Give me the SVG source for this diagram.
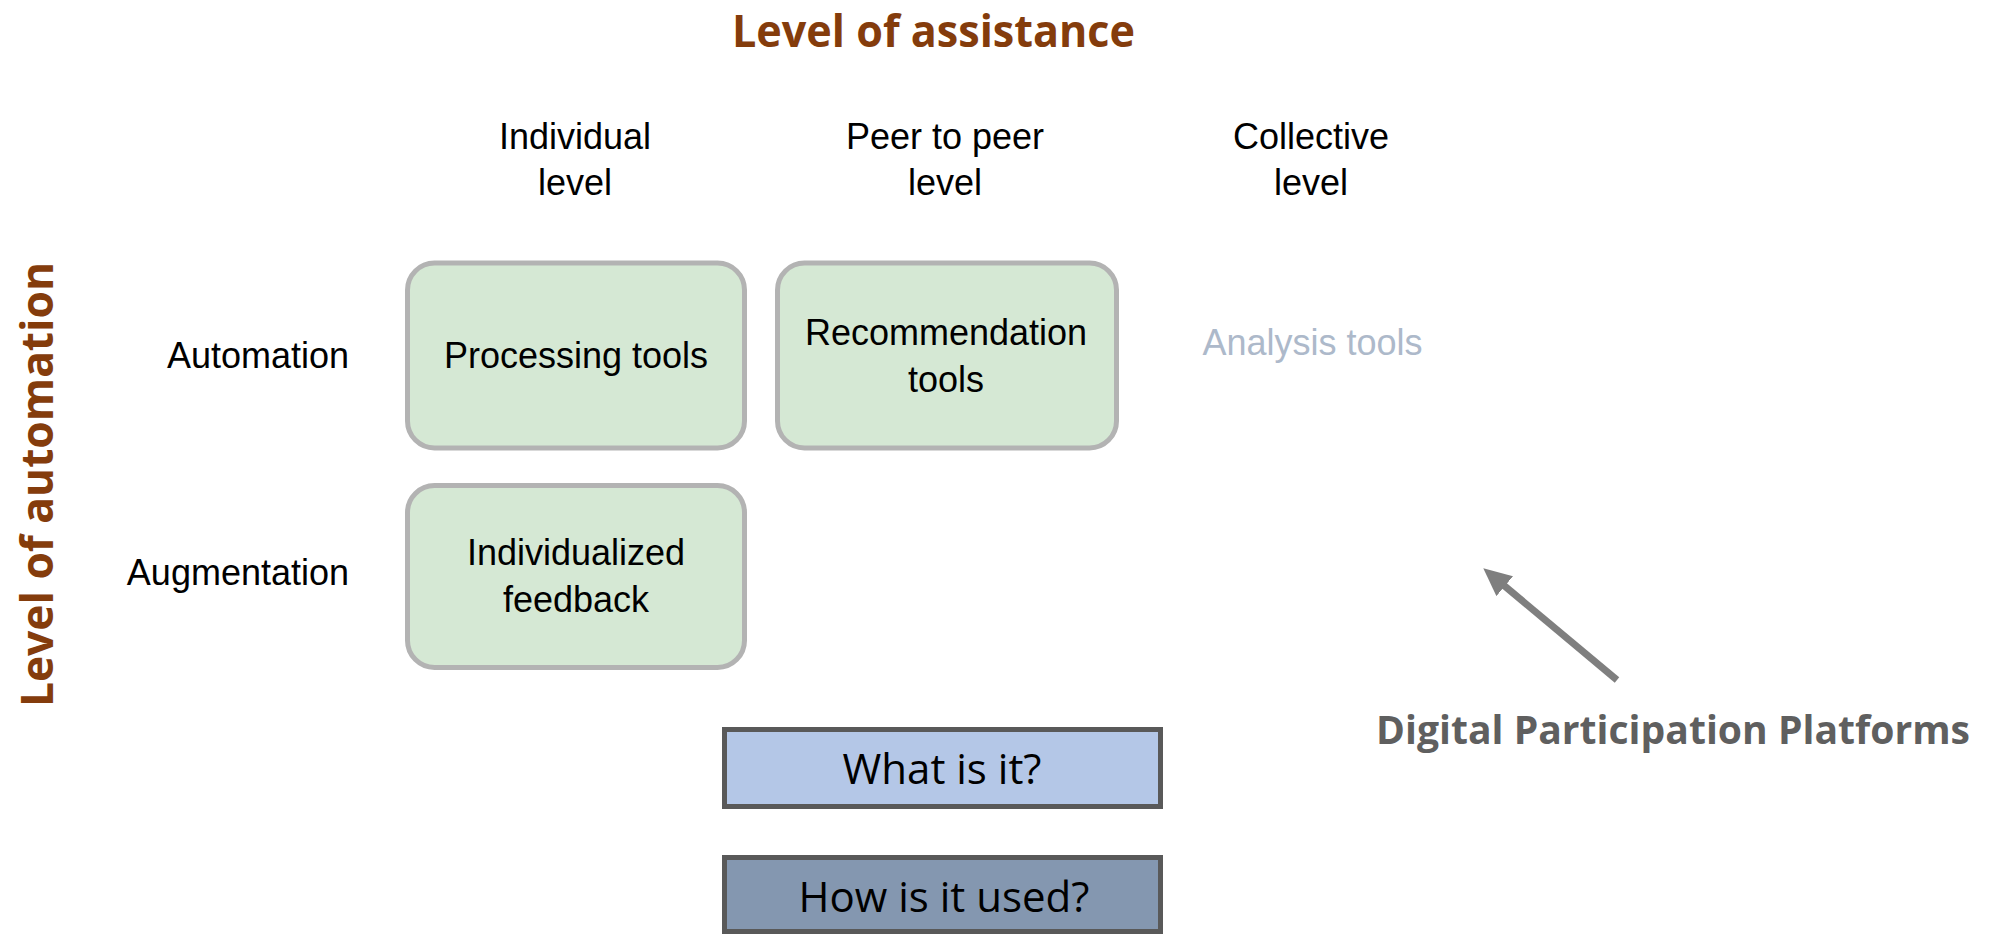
<svg xmlns="http://www.w3.org/2000/svg" width="1995" height="934" viewBox="0 0 1995 934">
  <style>
    .axis { font-family: "Open Sans", "DejaVu Sans", sans-serif; font-weight: bold; fill: #843C0C; font-size: 45px; }
    .lbl { font-family: "Liberation Sans", Arial, sans-serif; font-size: 36px; fill: #000000; text-anchor: middle; }
    .rlbl { font-family: "Liberation Sans", Arial, sans-serif; font-size: 36px; fill: #000000; text-anchor: end; }
    .tool { fill: #d5e8d4; stroke: #b3b3b3; stroke-width: 5; }
    .q { stroke: #595959; stroke-width: 5; }
    .qtxt { font-family: "Open Sans", "DejaVu Sans", sans-serif; font-size: 42px; fill: #000000; text-anchor: middle; }
    .dpp { font-family: "Open Sans", "DejaVu Sans", sans-serif; font-weight: bold; font-size: 40px; fill: #5f5f5f; }
  </style>
  <defs>
    <marker id="ah" markerUnits="userSpaceOnUse" markerWidth="28" markerHeight="26" refX="1" refY="13" orient="auto">
      <path d="M0,0 L28,13 L0,26 Z" fill="#7f7f7f"/>
    </marker>
  </defs>
  <rect width="1995" height="934" fill="#ffffff"/>

  <g id="axis-titles">
    <text class="axis" x="933.5" y="47" text-anchor="middle" textLength="403" lengthAdjust="spacingAndGlyphs">Level of assistance</text>
    <text class="axis" transform="translate(53,484.5) rotate(-90)" x="0" y="0" text-anchor="middle" textLength="445" lengthAdjust="spacingAndGlyphs">Level of automation</text>
  </g>

  <g id="col-headers">
    <text class="lbl" x="575" y="149">Individual</text>
    <text class="lbl" x="575" y="195">level</text>
    <text class="lbl" x="945" y="149">Peer to peer</text>
    <text class="lbl" x="945" y="195">level</text>
    <text class="lbl" x="1311" y="149">Collective</text>
    <text class="lbl" x="1311" y="195">level</text>
  </g>

  <g id="row-headers">
    <text class="rlbl" x="349" y="368">Automation</text>
    <text class="rlbl" x="349" y="585">Augmentation</text>
  </g>

  <g id="processing-tools">
    <rect class="tool" x="407.5" y="263" width="337" height="185" rx="27"/>
    <text class="lbl" x="576" y="368">Processing tools</text>
  </g>

  <g id="recommendation-tools">
    <rect class="tool" x="777.5" y="263" width="339" height="185" rx="27"/>
    <text class="lbl" x="946" y="345">Recommendation</text>
    <text class="lbl" x="946" y="392">tools</text>
  </g>

  <g id="analysis-tools">
    <text class="lbl" x="1312.5" y="355" fill="#adb9ca" style="fill:#adb9ca">Analysis tools</text>
  </g>

  <g id="individualized-feedback">
    <rect class="tool" x="407.5" y="485.5" width="337" height="182" rx="27"/>
    <text class="lbl" x="576" y="565">Individualized</text>
    <text class="lbl" x="576" y="612">feedback</text>
  </g>

  <g id="what-is-it">
    <rect class="q" x="724.5" y="729.5" width="436" height="77" fill="#b4c7e7"/>
    <text class="qtxt" x="942" y="784">What is it?</text>
  </g>

  <g id="how-is-it-used">
    <rect class="q" x="724.5" y="857.5" width="436" height="74" fill="#8497b0"/>
    <text class="qtxt" x="944" y="912">How is it used?</text>
  </g>

  <g id="digital-participation-platforms">
    <text class="dpp" x="1376" y="744" textLength="594" lengthAdjust="spacingAndGlyphs">Digital Participation Platforms</text>
  </g>

  <g id="connectors">
    <line x1="1617" y1="680" x2="1504" y2="585.5" stroke="#7f7f7f" stroke-width="7" marker-end="url(#ah)"/>
  </g>
</svg>
